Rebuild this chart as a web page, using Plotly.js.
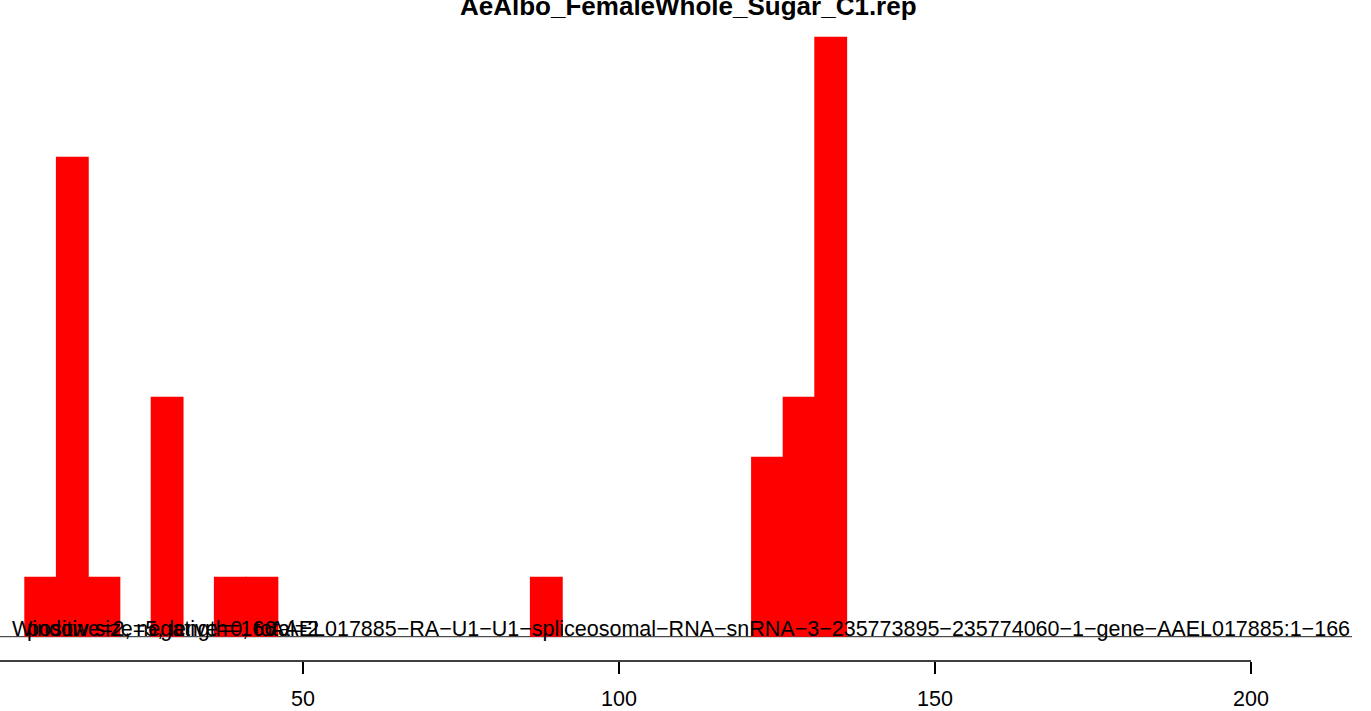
<!DOCTYPE html>
<html>
<head>
<meta charset="utf-8">
<script src="https://cdn.plot.ly/plotly-3.0.1.min.js"></script>
<style>
html,body{margin:0;padding:0;background:#fff;}
#chart{width:1371px;height:711px;}
</style>
</head>
<body>
<div id="chart"></div>
<script>
// Data (window size 5)
const binStarts = [6, 11, 16, 26, 36, 41, 86, 121, 126, 131];
const counts    = [1, 8, 1, 4, 1, 1, 1, 3, 4, 10];
const windowSize = 5;
const tickVals = [0, 50, 100, 150, 200];
const tickText = ["0", "50", "100", "150", "200"];
const titleText = "AeAlbo_FemaleWhole_Sugar_C1.rep";
const infoWindow = "Window size=5, length=166";
const infoCounts = "positive=2, negative=0, total=2";
const seqName = "AAEL017885\u2212RA\u2212U1\u2212U1\u2212spliceosomal\u2212RNA\u2212snRNA\u22123\u2212235773895\u2212235774060\u22121\u2212gene\u2212AAEL017885:1\u2212166";

const W = 1371, H = 711;
const pxPerUnit = 6.32, px0 = -13;        // x: px = px0 + pxPerUnit*v
const basePx = 636.7, pxPerCount = 60;    // y: px = basePx - pxPerCount*c
const plotBottom = 661;

const xr = [(0 - px0) / pxPerUnit, (W - px0) / pxPerUnit];
const yr = [-(plotBottom - basePx) / pxPerCount, basePx / pxPerCount];

const centers = binStarts.map(s => s + windowSize / 2);

const trace = {
  type: 'bar',
  x: centers,
  y: counts,
  width: binStarts.map(() => windowSize * 1.04),
  marker: {color: '#ff0000', line: {width: 0}},
  hoverinfo: 'x+y'
};

const font = "'Liberation Sans', Arial, sans-serif";
const baseSize = 21.5;

const layout = {
  width: W, height: H,
  margin: {l: 0, r: 0, t: 0, b: H - plotBottom, pad: 0},
  paper_bgcolor: '#ffffff',
  plot_bgcolor: '#ffffff',
  showlegend: false,
  xaxis: {
    range: xr,
    tickmode: 'array',
    tickvals: tickVals,
    ticktext: tickText,
    ticks: 'outside',
    ticklen: 12,
    tickwidth: 1.5,
    tickcolor: '#000',
    showline: false,
    showgrid: false,
    zeroline: false,
    tickfont: {family: font, size: baseSize, color: '#000'},
    ticklabelstandoff: 6,
    fixedrange: true
  },
  yaxis: {
    range: yr,
    visible: false,
    showgrid: false,
    zeroline: false,
    fixedrange: true
  },
  shapes: [
    {type: 'line', xref: 'x', yref: 'paper', x0: tickVals[0], x1: tickVals[tickVals.length - 1], y0: 0, y1: 0,
     line: {color: '#000', width: 1.5}},
    {type: 'line', xref: 'paper', yref: 'y', x0: 0, x1: 1352 / W, y0: 0, y1: 0,
     line: {color: '#222', width: 1}, layer: 'below'}
  ],
  annotations: [
    {text: '<b>' + titleText + '</b>', xref: 'paper', yref: 'paper', x: 688 / W, y: 1,
     xanchor: 'center', yanchor: 'middle', yshift: -5.5, showarrow: false,
     font: {family: font, size: 26, color: '#000'}},
    {text: infoWindow, xref: 'paper', yref: 'y', x: 10 / W, y: 0, xanchor: 'left', yanchor: 'bottom',
     yshift: -6, showarrow: false, font: {family: font, size: baseSize, color: '#000'}},
    {text: infoCounts, xref: 'paper', yref: 'y', x: 25 / W, y: 0, xanchor: 'left', yanchor: 'bottom',
     yshift: -6, showarrow: false, font: {family: font, size: baseSize, color: '#000'}},
    {text: seqName, xref: 'paper', yref: 'y', x: 1352 / W, y: 0, xanchor: 'right', yanchor: 'bottom',
     yshift: -6, showarrow: false, font: {family: font, size: baseSize, color: '#000'}}
  ]
};

Plotly.newPlot('chart', [trace], layout, {displayModeBar: false, staticPlot: true});
</script>
</body>
</html>
